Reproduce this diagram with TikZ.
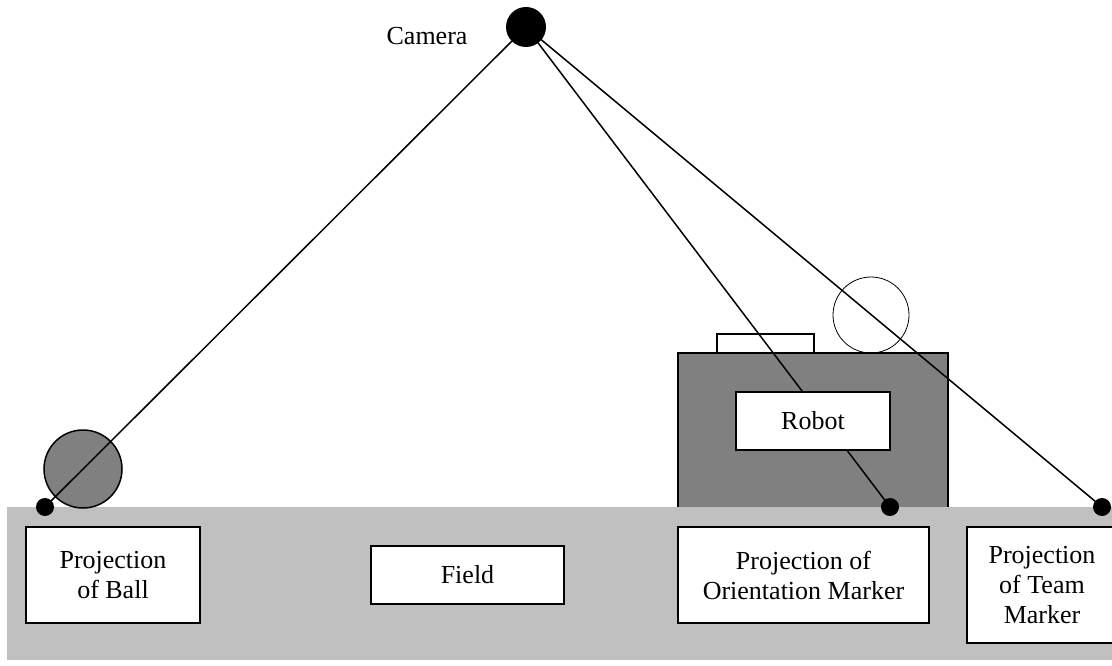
\documentclass[tikz,border=0pt]{standalone}
\usepackage{fontspec}
\setmainfont{Liberation Serif}
\begin{document}
\begin{tikzpicture}[x=1pt,y=-1pt,
  lbl/.style={draw=black,line width=1.6pt,fill=white,rectangle,inner sep=0pt,align=center,
    font=\fontsize{26}{30}\selectfont},
  dot/.style={circle,fill=black,inner sep=0pt,minimum size=18pt},
  camdot/.style={circle,fill=black,inner sep=0pt,minimum size=40pt},
  ray/.style={line width=1.5pt,black},
  fieldgray/.style={fill={rgb,255:red,192;green,192;blue,192}},
  darkgray/.style={fill={rgb,255:red,128;green,128;blue,128}}]
\useasboundingbox (0,0) rectangle (1112,666);

% robot body and its parts
\draw[darkgray,draw=black,line width=1.6pt] (678,353) rectangle (948,520);
\draw[fill=white,draw=black,line width=1.5pt] (717,334) rectangle (814,353);
\draw[black,line width=0.8pt] (871,315) circle (38);

% the field
\fill[fieldgray] (7,507) rectangle (1112,660);

% the ball
\draw[darkgray,draw=black,line width=1.5pt] (83,469) circle (39);

% camera position and projected points
\coordinate (cam) at (526,27);
\coordinate (pball) at (45,507);
\coordinate (porient) at (890,507);
\coordinate (pteam) at (1102,507);

% viewing rays
\draw[ray] (cam) -- (pball);
\draw[ray] (cam) -- (porient);
\draw[ray] (cam) -- (pteam);

\node[dot] (pballdot) at (pball) {};
\node[dot] (porientdot) at (porient) {};
\node[dot] (pteamdot) at (pteam) {};
\node[camdot] (camera) at (cam) {};
\node[anchor=base east,font=\fontsize{26}{30}\selectfont] (camlbl) at (471,45) {Camera};

% labels
\node[lbl,minimum width=154pt,minimum height=58pt] (robot) at (813,421) {Robot};
\node[lbl,minimum width=174pt,minimum height=96pt] (ballproj) at (113,575) {Projection\\of Ball};
\node[lbl,minimum width=193pt,minimum height=58pt] (field) at (467.5,575) {Field};
\node[lbl,minimum width=251pt,minimum height=96pt] (orientproj) at (803.5,575) {Projection of\\Orientation Marker};
\node[lbl,minimum width=150pt,minimum height=116pt] (teamproj) at (1042,585) {Projection\\of Team\\Marker};
\end{tikzpicture}
\end{document}
